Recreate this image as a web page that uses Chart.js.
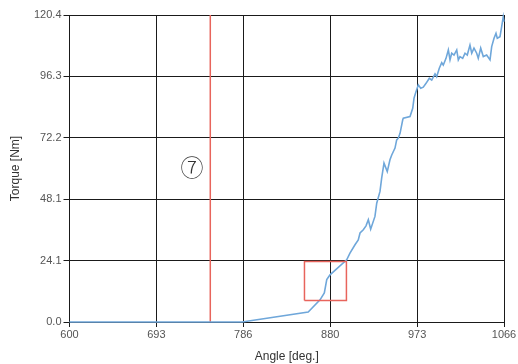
<!DOCTYPE html>
<html>
<head>
<meta charset="utf-8">
<script src="https://cdn.jsdelivr.net/npm/chart.js@4"></script>
<style>
  html, body { margin: 0; padding: 0; background: #fff; }
  #wrap { width: 518px; height: 364px; }
</style>
</head>
<body>
<div id="wrap"><canvas id="chart" width="518" height="364"></canvas></div>
<script>
// Data
const angle = [600, 785, 856, 868.7, 873.3, 875.9, 879.4, 897.3, 900.8, 906.2, 909.7, 911.6, 915.1, 918, 920.5, 923,
    927.6, 929.5, 933, 934.8, 937.3, 940.8, 943.7, 945.6, 949.1, 950.9, 952.6, 954.5, 957.4, 958, 965.2, 968.1,
    969.5, 971.6, 974.1, 976.7, 979.4, 982.4, 985.9, 988.5, 992, 993.8, 996.6, 999.2, 1000.9, 1003.8, 1006.3,
    1008.1, 1009.9, 1012.4, 1015.3, 1017, 1018.8, 1021.7, 1024.2, 1026.6, 1029.5, 1031.4, 1033.8, 1036.7, 1038.4,
    1041, 1043.8, 1047.4, 1051, 1052.8, 1055.3, 1057.4, 1058.8, 1061.7, 1063.5, 1065.2, 1066];
const torque = [0, 0, 3.9, 8.7, 11.4, 16.6, 18.5, 24.4, 27.0, 30.3, 32.2, 34.9, 36.2, 37.7, 40.1, 36.4,
    41.4, 46.6, 51.2, 56.4, 62.3, 59.0, 63.6, 65.5, 68.2, 71.4, 72.1, 74.0, 79.3, 79.9, 80.6, 83.8,
    87.8, 90.3, 93.0, 91.7, 92.1, 93.6, 95.6, 94.9, 97.3, 96.2, 99.5, 101.7, 100.8, 103.4, 106.7,
    102.8, 105.4, 104.7, 106.7, 102.8, 104.1, 103.4, 105.4, 104.7, 108.6, 105.4, 107.4, 105.4, 103.4,
    107.4, 104.1, 104.7, 102.8, 108.0, 111.3, 113.2, 111.3, 111.9, 115.8, 119.7, 117.8];

const xTicks = [600, 693.2, 786.4, 879.6, 972.8, 1066];
const xTickLabels = ["600", "693", "786", "880", "973", "1066"];
const yTicks = [0, 24.08, 48.16, 72.24, 96.32, 120.4];
const yTickLabels = ["0.0", "24.1", "48.1", "72.2", "96.3", "120.4"];

// Annotations
const markerAngle = 751;
const boxAngles = [852, 897];
const boxTorques = [8.4, 23.7];
const labelPos = [731.5, 60.7];
const labelText = "\u2466";

const lineColor = "#6fa7da";
const redColor = "#e8645c";

const curve = angle.map((a, i) => ({ x: a, y: torque[i] }));
const marker = [{ x: markerAngle, y: yTicks[0] }, { x: markerAngle, y: yTicks[yTicks.length - 1] }];
const box = [
    { x: boxAngles[0], y: boxTorques[0] },
    { x: boxAngles[1], y: boxTorques[0] },
    { x: boxAngles[1], y: boxTorques[1] },
    { x: boxAngles[0], y: boxTorques[1] },
    { x: boxAngles[0], y: boxTorques[0] },
];

// Circled number label drawn at data coords
const labelPlugin = {
    id: "circledLabel",
    afterDatasetsDraw(chart) {
        const ctx = chart.ctx;
        const x = chart.scales.x.getPixelForValue(labelPos[0]);
        const y = chart.scales.y.getPixelForValue(labelPos[1]);
        ctx.save();
        ctx.fillStyle = "#333";
        ctx.font = '300 23px "Noto Sans CJK JP"';
        ctx.textAlign = "center";
        ctx.textBaseline = "middle";
        ctx.fillText(labelText, x, y);
        ctx.restore();
    },
};

const gridOpts = {
    color: "#1a1a1a",
    lineWidth: 1,
    drawTicks: true,
    tickLength: 6,
};

new Chart(document.getElementById("chart"), {
    type: "line",
    data: {
        datasets: [
            {
                data: curve,
                borderColor: lineColor,
                borderWidth: 1.6,
                pointRadius: 0,
                tension: 0,
                clip: 3,
                order: 1,
            },
            {
                data: marker,
                borderColor: redColor,
                borderWidth: 1.5,
                pointRadius: 0,
                order: 2,
            },
            {
                data: box,
                borderColor: redColor,
                borderWidth: 1.5,
                pointRadius: 0,
                order: 0,
            },
        ],
    },
    options: {
        responsive: false,
        animation: false,
        layout: { padding: { left: 0, right: 14, top: 15, bottom: 0 } },
        plugins: {
            legend: { display: false },
            tooltip: { enabled: false },
        },
        scales: {
            x: {
                type: "linear",
                min: xTicks[0],
                max: xTicks[xTicks.length - 1],
                afterBuildTicks: (s) => { s.ticks = xTicks.map((v) => ({ value: v })); },
                afterFit: (s) => { s.height = 42; },
                grid: { ...gridOpts, tickLength: 5 },
                border: { color: "#1a1a1a", width: 1 },
                ticks: {
                    autoSkip: false,
                    maxRotation: 0,
                    padding: 1,
                    color: "#555",
                    font: { family: "Liberation Sans", size: 11 },
                    callback: (v, i) => xTickLabels[i],
                },
                title: {
                    display: true,
                    text: "Angle [deg.]",
                    color: "#333",
                    padding: { top: 0, bottom: 0 },
                    font: { family: "Liberation Sans", size: 12 },
                },
            },
            y: {
                type: "linear",
                min: yTicks[0],
                max: yTicks[yTicks.length - 1],
                afterBuildTicks: (s) => { s.ticks = yTicks.map((v) => ({ value: v })); },
                afterFit: (s) => { s.width = 69.5; },
                grid: gridOpts,
                border: { color: "#1a1a1a", width: 1 },
                ticks: {
                    autoSkip: false,
                    padding: 2,
                    color: "#555",
                    font: { family: "Liberation Sans", size: 11 },
                    callback: (v, i) => yTickLabels[i],
                },
                title: {
                    display: true,
                    text: "Torque [Nm]",
                    color: "#333",
                    padding: { top: 8, bottom: 0 },
                    font: { family: "Liberation Sans", size: 12 },
                },
            },
        },
    },
    plugins: [labelPlugin],
});
</script>
</body>
</html>
